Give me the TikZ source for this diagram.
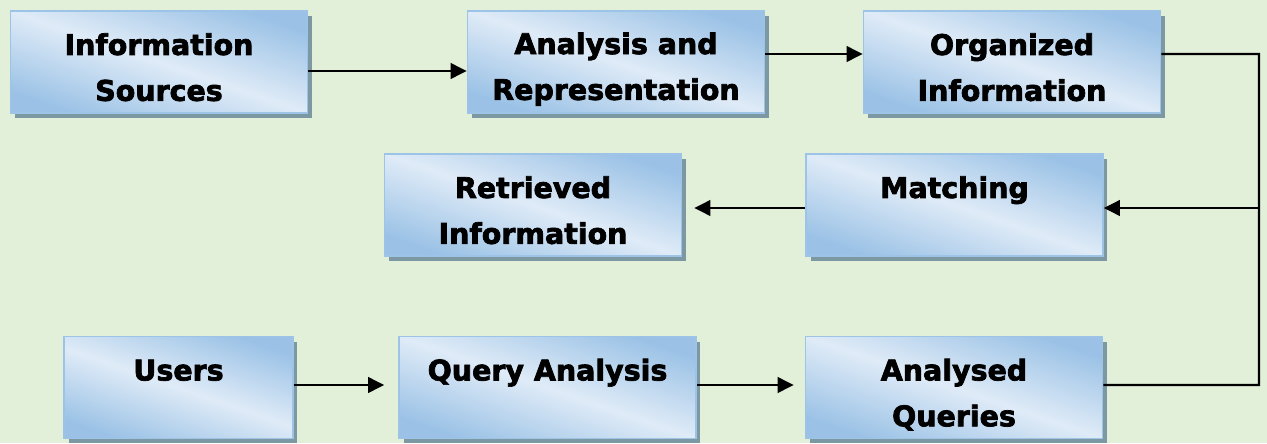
\documentclass[tikz,border=0pt]{standalone}
\usepackage{fontspec}
\setmainfont{DejaVu Sans}[BoldFeatures={FakeBold=2.5}]
\usepackage{xcolor}
\usetikzlibrary{arrows.meta, positioning, shadows, calc}

\definecolor{bggreen}{RGB}{226,239,217}
\definecolor{boxblue}{RGB}{155,194,230}
\definecolor{boxlight}{RGB}{223,235,247}
\definecolor{boxedge}{RGB}{157,195,230}
\definecolor{shadowgrey}{RGB}{124,152,162}

\newcommand{\bxstrut}{\rule[-2.3pt]{0pt}{22.7pt}}

\begin{document}
\begin{tikzpicture}[x=0.02cm, y=-0.02cm,
    box/.style={draw=boxedge, line width=1pt,
        top color=boxblue, bottom color=boxblue, middle color=boxlight, shading angle=-19,
        drop shadow={shadow xshift=0.09cm, shadow yshift=-0.1cm, fill=shadowgrey, opacity=1},
        minimum width=5.94cm, minimum height=2.04cm, inner sep=0pt, align=center,
        font=\fontsize{16.2}{26.1}\selectfont\bfseries},
    conn/.style={line width=1.4pt},
    arr/.style={conn, -{Triangle[length=0.32cm, width=0.31cm]}}]

        % background
        \useasboundingbox (0,0) rectangle (1267,443);
        \fill[bggreen] (0,0) rectangle (1267,443);

        % top row
        \node[box] (info) at (159,62) {\bxstrut Information\\\bxstrut Sources};
        \node[box] (anal) at (616,62) {\bxstrut Analysis and\\\bxstrut Representation};
        \node[box] (org) at (1012,62) {\bxstrut Organized\\\bxstrut Information};

        % middle row
        \node[box] (ret) at (533,205) {\bxstrut Retrieved\\\bxstrut Information};
        \node[box] (match) at (954.5,205) {\bxstrut Matching\\\bxstrut};

        % bottom row
        \node[box, minimum width=4.58cm] (users) at (178.5,387.5) {\bxstrut Users\\\bxstrut};
        \node[box] (qa) at (547.5,387.5) {\bxstrut Query Analysis\\\bxstrut};
        \node[box] (aq) at (954,387.5) {\bxstrut Analysed\\\bxstrut Queries};

        % connectors
        \coordinate (rtop) at (1259,54);
        \coordinate (rbot) at (1259,385);
        \draw[arr] ([yshift=-0.18cm]info.east) -- ([yshift=-0.18cm]anal.west);
        \draw[arr] ([yshift=0.16cm]anal.east) -- ([yshift=0.16cm]org.west);
        \draw[conn] ([yshift=0.16cm]org.east) -- (rtop) -- (rbot) -- ([yshift=0.05cm]aq.east);
        \draw[arr] ([yshift=-0.06cm]match.east -| rtop) -- ([yshift=-0.06cm]match.east);
        \draw[arr, shorten >=0.24cm] ([yshift=-0.06cm]match.west) -- ([yshift=-0.06cm]ret.east);
        \draw[arr, shorten >=0.28cm] ([yshift=0.05cm]users.east) -- ([yshift=0.05cm]qa.west);
        \draw[arr, shorten >=0.22cm] ([yshift=0.05cm]qa.east) -- ([yshift=0.05cm]aq.west);
    \end{tikzpicture}
\end{document}
